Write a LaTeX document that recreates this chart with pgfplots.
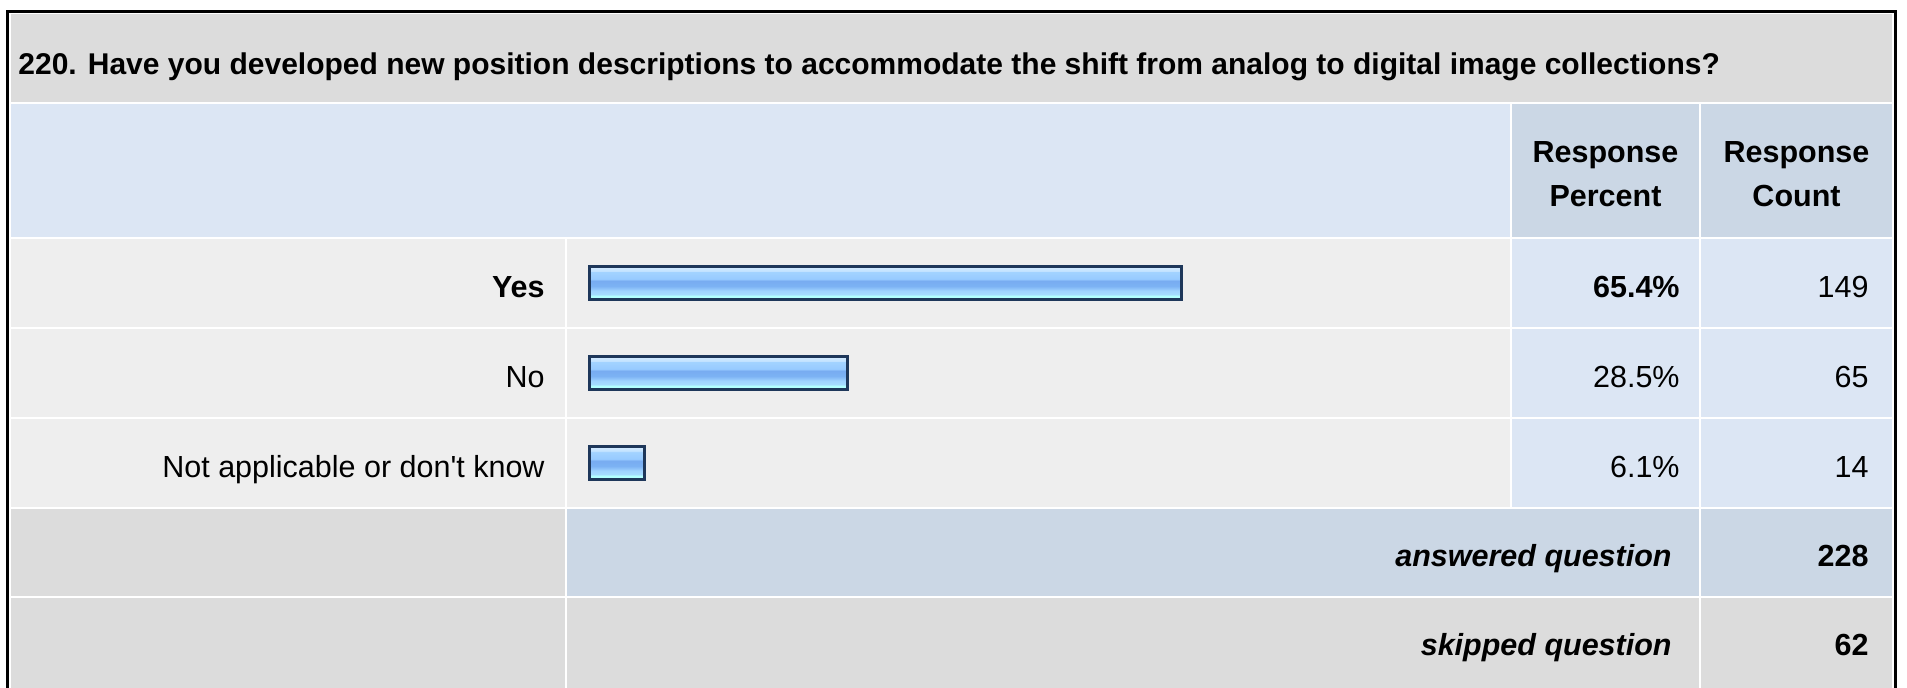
\documentclass[border=0pt]{standalone}
\usepackage{fontspec}
\setmainfont{Liberation Sans}[Ligatures=TeXOff]
\usepackage{pgfplots}
\usepackage{pgfplotstable}
\pgfplotsset{compat=1.18}

\definecolor{titlegray}{HTML}{DCDCDC}
\definecolor{headblue}{HTML}{DCE6F4}
\definecolor{headcell}{HTML}{CBD7E5}
\definecolor{rowgray}{HTML}{EEEEEE}
\definecolor{valblue}{HTML}{DCE6F4}
\definecolor{barline}{HTML}{1E375A}

% glossy bar fill, listed from the bottom edge upwards;
% TikZ maps the band 25bp..75bp onto the bar
\pgfdeclareverticalshading{barshade}{100bp}{%
  color(0bp)=(rgb,255:red,178;green,255;blue,255);
  color(25bp)=(rgb,255:red,178;green,255;blue,255);
  color(32bp)=(rgb,255:red,178;green,255;blue,255);
  color(33bp)=(rgb,255:red,166;green,221;blue,255);
  color(39bp)=(rgb,255:red,159;green,211;blue,255);
  color(46bp)=(rgb,255:red,124;green,178;blue,244);
  color(54bp)=(rgb,255:red,120;green,172;blue,241);
  color(57bp)=(rgb,255:red,152;green,203;blue,255);
  color(67.5bp)=(rgb,255:red,163;green,211;blue,255);
  color(69bp)=(rgb,255:red,196;green,227;blue,255);
  color(75bp)=(rgb,255:red,210;green,234;blue,255);
  color(100bp)=(rgb,255:red,210;green,234;blue,255)}

\pgfplotstableread{
idx pct count
0   65.4 149
1   28.5 65
2   6.1  14
}\responses

\newcommand\bodyfont{\fontsize{15.25}{18}\selectfont}
\newcommand\titlefont{\fontsize{15}{18}\selectfont\bfseries}

\begin{document}
\begin{tikzpicture}
\begin{scope}[x=0.5pt,y=-0.5pt]
  \useasboundingbox (0,0) rectangle (1907,688);
  \clip (0,0) rectangle (1907,688);
  \fill[white] (0,0) rectangle (1907,688);
  % outer frame
  \draw[black, line width=1.5pt] (7.5,11.5) rectangle (1895.5,720);
  % title row
  \fill[titlegray] (11,14) rectangle (1892,102.5);
  % header row
  \fill[headblue] (11,104) rectangle (1510,237.5);
  \fill[headcell] (1512,104) rectangle (1699,237.5);
  \fill[headcell] (1701,104) rectangle (1892,237.5);
  % answer rows
  \foreach \t/\b in {239.5/327.5, 329.5/417.5, 419.5/507.5} {
    \fill[rowgray] (11,\t) rectangle (565,\b);
    \fill[rowgray] (567,\t) rectangle (1510,\b);
    \fill[valblue] (1512,\t) rectangle (1699,\b);
    \fill[valblue] (1701,\t) rectangle (1892,\b);
  }
  % totals
  \fill[titlegray] (11,509.5) rectangle (565,596.5);
  \fill[headcell] (567,509.5) rectangle (1699,596.5);
  \fill[headcell] (1701,509.5) rectangle (1892,596.5);
  \fill[titlegray] (11,598.5) rectangle (565,700);
  \fill[titlegray] (567,598.5) rectangle (1699,700);
  \fill[titlegray] (1701,598.5) rectangle (1892,700);

  % text
  \node[anchor=base west, inner sep=0pt, font=\titlefont] at (18,75)
    {220. Have you developed new position descriptions to accommodate the shift from analog to digital image collections?};
  \node[anchor=base, inner sep=0pt, font=\bodyfont\bfseries] at (1605.5,163) {Response};
  \node[anchor=base, inner sep=0pt, font=\bodyfont\bfseries] at (1605.5,207) {Percent};
  \node[anchor=base, inner sep=0pt, font=\bodyfont\bfseries] at (1796.5,163) {Response};
  \node[anchor=base, inner sep=0pt, font=\bodyfont\bfseries] at (1796.5,207) {Count};

  \node[anchor=base east, inner sep=0pt, font=\bodyfont\bfseries] at (1680,298) {65.4\%};
  \node[anchor=base east, inner sep=0pt, font=\bodyfont] at (1869,298) {149};
  \node[anchor=base east, inner sep=0pt, font=\bodyfont] at (1680,388) {28.5\%};
  \node[anchor=base east, inner sep=0pt, font=\bodyfont] at (1869,388) {65};
  \node[anchor=base east, inner sep=0pt, font=\bodyfont] at (1680,478) {6.1\%};
  \node[anchor=base east, inner sep=0pt, font=\bodyfont] at (1869,478) {14};

  \node[anchor=base east, inner sep=0pt, font=\bodyfont\bfseries\itshape] at (1672,567) {answered question};
  \node[anchor=base east, inner sep=0pt, font=\bodyfont\bfseries] at (1869,567) {228};
  \node[anchor=base east, inner sep=0pt, font=\bodyfont\bfseries\itshape] at (1672,656) {skipped question};
  \node[anchor=base east, inner sep=0pt, font=\bodyfont\bfseries] at (1869,656) {62};

  % response bars, one path per bar so each gets its own shading
  \begin{axis}[
    at={(294.75pt,-119.25pt)}, anchor=north west,
    width=452.5pt, height=135pt, scale only axis,
    xmin=0, xmax=100, ymin=-0.5, ymax=2.5, y dir=reverse,
    axis line style={draw=none}, tick style={draw=none},
    major tick length=0pt,
    xtick=\empty,
    ytick={0,1,2},
    yticklabels={\textbf{Yes},No,Not applicable or don't know},
    yticklabel style={anchor=base east, inner sep=0pt, font=\bodyfont,
      xshift=-22.25pt, yshift=-7.25pt},
    xbar, bar width=16.5pt, clip=false,
  ]
    \pgfplotsinvokeforeach{0,1,2}{
      \addplot[xbar, bar shift=0pt, draw=barline, line width=1.5pt,
        shade, shading=barshade,
        restrict expr to domain={\coordindex}{#1:#1}]
        table[x=pct, y=idx] {\responses};
    }
  \end{axis}
\end{scope}
\end{tikzpicture}
\end{document}
